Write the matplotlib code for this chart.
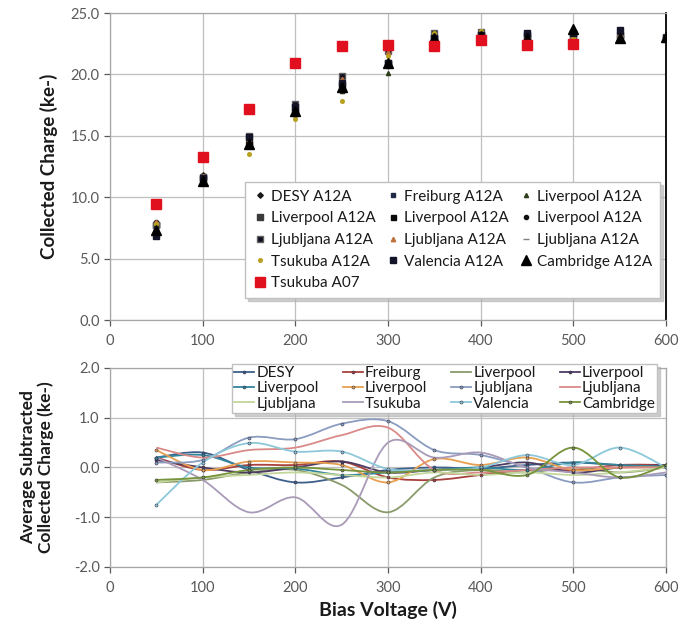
import matplotlib
matplotlib.use("Agg")
import matplotlib.pyplot as plt
import numpy as np
from matplotlib.path import Path
from matplotlib.patches import PathPatch
from matplotlib.lines import Line2D

plt.rcParams['font.family'] = ['Lato', 'DejaVu Sans']

# ---------------- data ----------------
voltage = [50, 100, 150, 200, 250, 300, 350, 400, 450, 500, 550, 600]
voltage_a07 = [50, 100, 150, 200, 250, 300, 350, 400, 450, 500]

top_names = ["DESY A12A", "Liverpool A12A", "Ljubljana A12A", "Tsukuba A12A", "Tsukuba A07",
             "Freiburg A12A", "Liverpool A12A", "Ljubljana A12A", "Valencia A12A",
             "Liverpool A12A", "Liverpool A12A", "Ljubljana A12A", "Cambridge A12A"]

desy_a12a      = [7.8, 11.8, 14.35, 16.7, 18.8, 20.95, 23.0, 23.2, 23.15, 23.4, 23.25, 23.05]
freiburg_a12a  = [7.8, 11.45, 14.45, 17.05, 19.1, 20.8, 22.75, 23.05, 23.05, 23.25, 23.25, 23.05]
liverpool1_a12a = [7.3, 11.25, 14.3, 16.95, 18.65, 20.1, 22.8, 23.15, 23.0, 23.3, 23.1, 23.0]
liverpool2_a12a = [7.75, 11.5, 14.3, 17.0, 19.1, 20.9, 22.95, 23.2, 23.2, 23.2, 23.2, 23.05]
liverpool3_a12a = [7.8, 11.75, 14.4, 16.98, 18.85, 20.9, 22.95, 23.2, 23.05, 23.4, 23.25, 23.02]
liverpool4_a12a = [7.95, 11.45, 14.52, 17.1, 19.05, 20.7, 23.17, 23.25, 23.3, 23.25, 23.2, 23.0]
ljubljana1_a12a = [7.7, 11.65, 15.0, 17.57, 19.88, 21.93, 23.35, 23.45, 23.1, 23.0, 23.0, 22.85]
ljubljana2_a12a = [8.0, 11.7, 14.75, 17.4, 19.65, 21.8, 22.95, 23.1, 23.05, 23.3, 23.2, 23.0]
ljubljana3_a12a = [7.3, 11.3, 14.25, 16.9, 18.85, 20.8, 22.9, 23.05, 23.0, 23.15, 23.1, 23.0]
tsukuba_a12a   = [7.8, 11.25, 13.5, 16.4, 17.85, 21.5, 23.35, 23.5, 23.1, 23.0, 23.0, 22.9]
valencia_a12a  = [6.85, 11.6, 14.89, 17.32, 19.32, 20.97, 22.95, 23.2, 23.35, 23.35, 23.6, 23.0]
cambridge_a12a = [7.35, 11.3, 14.35, 17.0, 18.95, 20.9, 22.95, 23.15, 22.95, 23.7, 23.0, 23.05]
tsukuba_a07    = [9.45, 13.3, 17.2, 20.9, 22.35, 22.4, 22.3, 22.8, 22.4, 22.5]

# bottom panel: average-subtracted charge
bottom_names = ["DESY", "Freiburg", "Liverpool", "Liverpool", "Liverpool", "Liverpool",
                "Ljubljana", "Ljubljana", "Ljubljana", "Tsukuba", "Valencia", "Cambridge"]
d_desy       = [0.2, 0.3, -0.05, -0.3, -0.2, -0.05, 0.0, -0.02, 0.05, 0.1, 0.05, 0.05]
d_freiburg   = [0.2, -0.05, 0.05, 0.05, 0.12, -0.2, -0.25, -0.15, -0.05, -0.05, 0.05, 0.05]
d_liverpool1 = [-0.3, -0.25, -0.1, -0.05, -0.35, -0.9, -0.2, -0.05, -0.1, 0.0, -0.1, 0.0]
d_liverpool2 = [0.15, 0.0, -0.1, 0.0, 0.12, -0.1, -0.05, 0.0, 0.1, -0.1, 0.0, 0.05]
d_liverpool3 = [0.2, 0.25, 0.0, -0.02, -0.15, -0.1, -0.05, 0.0, -0.05, 0.1, 0.05, 0.02]
d_liverpool4 = [0.35, -0.05, 0.12, 0.1, 0.05, -0.3, 0.17, 0.05, 0.2, -0.05, 0.0, 0.0]
d_ljubljana1 = [0.1, 0.15, 0.6, 0.57, 0.88, 0.93, 0.35, 0.25, 0.0, -0.3, -0.2, -0.15]
d_ljubljana2 = [0.4, 0.2, 0.35, 0.4, 0.65, 0.8, -0.05, -0.1, -0.05, 0.0, 0.0, 0.0]
d_ljubljana3 = [-0.3, -0.2, -0.15, -0.1, -0.15, -0.2, -0.1, -0.15, -0.1, -0.15, -0.1, 0.0]
d_tsukuba    = [0.2, -0.25, -0.9, -0.6, -1.15, 0.5, 0.2, 0.3, 0.0, -0.1, -0.2, -0.1]
d_valencia   = [-0.75, 0.1, 0.49, 0.32, 0.32, -0.03, -0.05, 0.0, 0.25, 0.05, 0.4, 0.0]
d_cambridge  = [-0.25, -0.2, -0.05, 0.0, -0.05, -0.1, -0.05, -0.05, -0.15, 0.4, -0.2, 0.05]

x_ticks = [0, 100, 200, 300, 400, 500, 600]
top_yticks = [0, 5, 10, 15, 20, 25]
bottom_yticks = [-2, -1, 0, 1, 2]

# ---------------- figure ----------------
fig = plt.figure(figsize=(6.92, 6.27), dpi=100)
ax1 = fig.add_axes([0.159, 0.4896, 0.8035, 0.4896])
ax2 = fig.add_axes([0.159, 0.0957, 0.8035, 0.3174])

grid_c = '#BFBFBF'
tick_c = '#595959'

for ax in (ax1, ax2):
    ax.set_xlim(0, 600)
    ax.set_xticks(x_ticks)
    ax.grid(True, color=grid_c, linewidth=0.9)
    ax.set_axisbelow(True)
    for s in ax.spines.values():
        s.set_color('#A6A6A6')
        s.set_linewidth(0.9)
    ax.tick_params(colors=tick_c, labelsize=10.5, length=4, width=0.9, direction='out')
    ax.tick_params(axis='x', pad=6)

ax1.set_ylim(0, 25)
ax1.set_yticks(top_yticks)
ax1.set_yticklabels([f"{v:.1f}" for v in top_yticks])
ax1.spines['right'].set_color('black')
ax1.spines['right'].set_linewidth(1.3)

ax2.set_ylim(-2, 2)
ax2.set_yticks(bottom_yticks)
ax2.set_yticklabels([f"{v:.1f}" for v in bottom_yticks])

# ---- top scatter ----
top_specs = [
    (desy_a12a, dict(marker='D', color='#1a1a1a', ms=2.8)),
    (liverpool2_a12a, dict(marker='s', color='#3a3a3a', ms=3.8)),
    (ljubljana1_a12a, dict(marker='s', color='#101020', ms=4.2, mec='#606060')),
    (tsukuba_a12a, dict(marker='o', color='#B8A020', ms=2.6)),
    (None, dict(marker='s', color='#E0101E', ms=6.5)),
    (freiburg_a12a, dict(marker='s', color='#1F2A44', ms=3.2)),
    (liverpool3_a12a, dict(marker='s', color='#0a0a0a', ms=3.6)),
    (ljubljana2_a12a, dict(marker='^', color='#C0703A', ms=3.2)),
    (valencia_a12a, dict(marker='s', color='#141428', ms=4.0)),
    (liverpool1_a12a, dict(marker='^', color='#2E3D1A', ms=3.0)),
    (liverpool4_a12a, dict(marker='o', color='#111111', ms=3.0)),
    (ljubljana3_a12a, dict(marker='_', color='#808080', ms=5.0)),
    (cambridge_a12a, dict(marker='^', color='#000000', ms=7.0)),
]
handles = {}
order_draw = [0, 5, 9, 1, 6, 10, 2, 7, 11, 3, 8, 12, 4]
for i in order_draw:
    vals, st = top_specs[i]
    if vals is None:
        h, = ax1.plot(voltage_a07, tsukuba_a07, linestyle='none', zorder=5, **st)
    else:
        h, = ax1.plot(voltage, vals, linestyle='none', zorder=4, **st)
    handles[i] = h

leg1 = ax1.legend([handles[i] for i in range(13)], top_names, ncol=3,
                  loc='lower left', bbox_to_anchor=(0.243, 0.072, 0.746, 0.384),
                  mode='expand', borderaxespad=0, fontsize=11, frameon=True, fancybox=False,
                  edgecolor='#C0C0C0', framealpha=1, handlelength=0.9,
                  handletextpad=0.3, borderpad=0.5, labelspacing=0.5,
                  shadow={'color': '#B0B0B0', 'alpha': 0.6, 'ox': 2, 'oy': -2})
for t in leg1.get_texts():
    t.set_color('#1a1a1a')

# ---- bottom smooth lines ----
bottom_series = [d_desy, d_freiburg, d_liverpool1, d_liverpool2, d_liverpool3, d_liverpool4,
                 d_ljubljana1, d_ljubljana2, d_ljubljana3, d_tsukuba, d_valencia, d_cambridge]
bottom_colors = ['#3D5F8C', '#A8403C', '#8A9A6A', '#4D3B62', '#31859C', '#E8A050',
                 '#8A9CC0', '#D98A88', '#C3D69B', '#A99BB8', '#8CC8DA', '#77933C']
bottom_markers = [True, True, False, True, True, True, True, False, False, False, True, True]


def smooth_path(xs, ys):
    pts = np.column_stack([xs, ys]).astype(float)
    n = len(pts)
    verts = [pts[0]]
    codes = [Path.MOVETO]
    for i in range(n - 1):
        p0 = pts[i - 1] if i > 0 else pts[i]
        p1 = pts[i]
        p2 = pts[i + 1]
        p3 = pts[i + 2] if i + 2 < n else pts[i + 1]
        c1 = p1 + (p2 - p0) / 6.0
        c2 = p2 - (p3 - p1) / 6.0
        verts += [c1, c2, p2]
        codes += [Path.CURVE4] * 3
    return Path(verts, codes)


leg_handles = []
for vals, col, mk in zip(bottom_series, bottom_colors, bottom_markers):
    patch = PathPatch(smooth_path(voltage, vals), fill=False, edgecolor=col, linewidth=1.3, zorder=3)
    ax2.add_patch(patch)
    if mk:
        ax2.plot(voltage, vals, linestyle='none', marker='o', ms=2.2, color=col,
                 mec='#333344', mew=0.4, zorder=4)
    leg_handles.append(Line2D([], [], color=col, linewidth=1.3,
                              marker='o' if mk else None, ms=2.2, mec='#333344', mew=0.4))

# legend filled column by column -> reorder so rows read like the reference
col_order = [0, 4, 8, 1, 5, 9, 2, 6, 10, 3, 7, 11]
leg2 = ax2.legend([leg_handles[i] for i in col_order], [bottom_names[i] for i in col_order],
                  ncol=4, loc='lower left',
                  bbox_to_anchor=(0.219, 0.774, 0.765, 0.281), mode='expand', borderaxespad=0,
                  fontsize=11, frameon=True, fancybox=False, edgecolor='#C0C0C0',
                  framealpha=1, handlelength=1.3, handletextpad=0.15, borderpad=0.15,
                  labelspacing=0.08,
                  shadow={'color': '#B0B0B0', 'alpha': 0.6, 'ox': 2, 'oy': -2})
for t in leg2.get_texts():
    t.set_color('#1a1a1a')

# ---- labels ----
ax1.set_ylabel("Collected Charge (ke-)", fontsize=13.5, fontweight='bold', color='#1a1a1a')
ax1.yaxis.set_label_coords(-0.093, 0.5)
ax2.set_ylabel("Average Subtracted\nCollected Charge (ke-)", fontsize=12.5,
               fontweight='bold', color='#1a1a1a', linespacing=1.1)
ax2.yaxis.set_label_coords(-0.1, 0.5)
ax2.set_xlabel("Bias Voltage (V)", fontsize=14, fontweight='bold', color='#1a1a1a')
ax2.xaxis.set_label_coords(0.5, -0.17)

fig.savefig("out.png", dpi=100)
